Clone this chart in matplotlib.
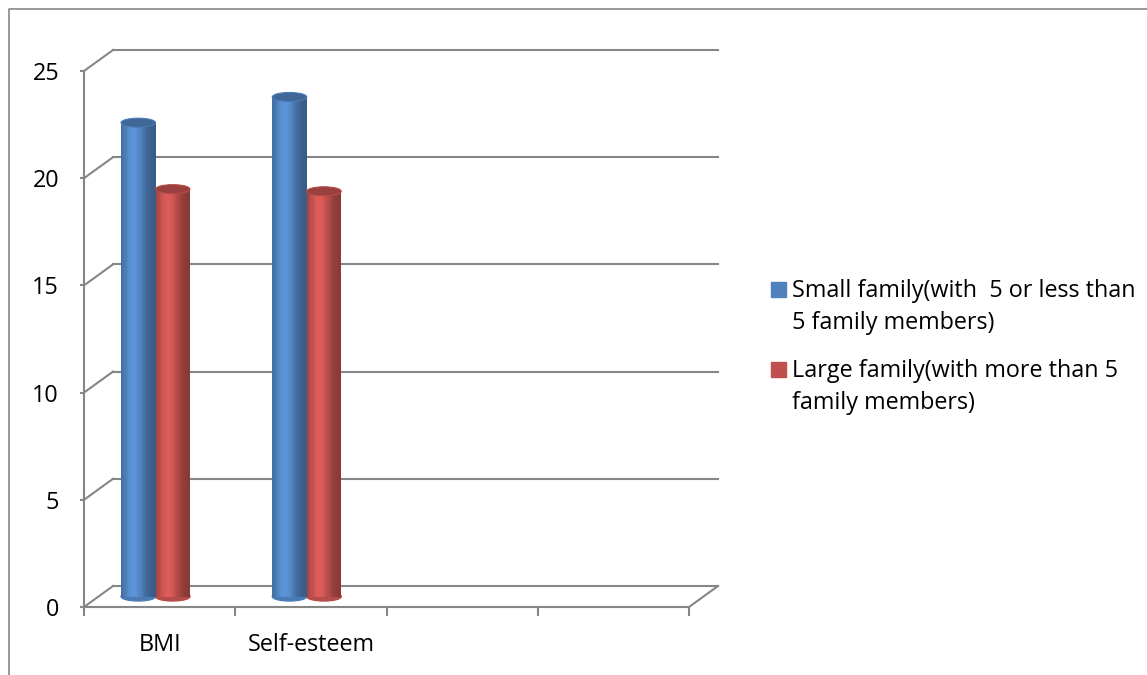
import numpy as np
import matplotlib.pyplot as plt
from matplotlib.patches import Ellipse, Rectangle
from matplotlib.lines import Line2D

# data
categories = ['BMI', 'Self-esteem', '', '']
series_names = ['Small family(with  5 or less than\n5 family members)',
                'Large family(with more than 5\nfamily members)']
small_family = [22.1, 23.3]
large_family = [19.0, 18.9]
y_ticks = [0, 5, 10, 15, 20, 25]
colors = ['#4f81bd', '#c0504d']

plt.rcParams['font.family'] = ['Open Sans', 'DejaVu Sans']
W, H = 1147, 675
fs = 16.8
grid = '#868686'

fig = plt.figure(figsize=(W / 100, H / 100), dpi=100)
ax = fig.add_axes([84 / W, (H - 607) / H, 605 / W, 536 / H])
ax.set_xlim(0, len(categories))
ax.set_ylim(0, 25)
for s in ax.spines.values():
    s.set_visible(False)

# depth offset of back wall, in data units
dx = 29 / (605 / len(categories))
dy = 21 / (536 / 25)

#  %%----------------------------------------- walls
for v in y_ticks:
    ax.plot([dx, len(categories) + dx], [v + dy, v + dy], color=grid, lw=1.5, clip_on=False, zorder=1)
    ax.plot([0, dx], [v, v + dy], color=grid, lw=1.5, clip_on=False, zorder=1)
ax.plot([0, 0], [0, 25], color=grid, lw=1.5, clip_on=False, zorder=1)
ax.plot([0, len(categories)], [0, 0], color=grid, lw=1.5, clip_on=False, zorder=1)
ax.plot([len(categories), len(categories) + dx], [0, dy], color=grid, lw=1.5, clip_on=False, zorder=1)

#  %%----------------------------------------- cylinders
bw = 0.228
start = 0.149
cap_h = 9 / (536 / 25)
n = 30


def shade(t):
    return 0.7 + 0.45 * np.exp(-((t - 0.36) / 0.33) ** 2)


def cylinder(x0, val, col):
    base = np.array(plt.matplotlib.colors.to_rgb(col))
    x0 = x0 + dx / 2
    y0 = dy / 2
    mid = base * 0.95
    ax.add_patch(Ellipse((x0 + bw / 2, y0), bw, cap_h, color=np.clip(mid, 0, 1), zorder=3, clip_on=False))
    edges = np.linspace(0, 1, n + 1)
    for a, b in zip(edges[:-1], edges[1:]):
        c = np.clip(base * shade((a + b) / 2), 0, 1)
        ax.bar(x0 + a * bw, val, width=(b - a) * bw * 1.05, bottom=y0, align='edge',
               color=c, lw=0, zorder=4, clip_on=False)
    ax.add_patch(Ellipse((x0 + bw / 2, y0 + val), bw, cap_h, facecolor=np.clip(base * 0.8, 0, 1),
                         edgecolor=np.clip(base * 0.95, 0, 1), lw=0.8, zorder=5, clip_on=False))


for i in range(len(small_family)):
    cylinder(i + start, small_family[i], colors[0])
    cylinder(i + start + bw, large_family[i], colors[1])

#  %%----------------------------------------- axes ticks
ax.set_yticks(y_ticks)
ax.set_yticklabels([str(v) for v in y_ticks], fontsize=fs)
ax.tick_params(axis='y', direction='out', length=3, width=1.5, color=grid, pad=15)
ax.set_xticks(np.arange(len(categories) + 1))
ax.set_xticklabels([''] * (len(categories) + 1))
ax.set_xticks(np.arange(len(categories)) + 0.5, minor=True)
ax.set_xticklabels(categories, minor=True, fontsize=fs)
ax.tick_params(axis='x', which='major', direction='out', length=6.5, width=1.5, color=grid)
ax.tick_params(axis='x', which='minor', length=0, pad=19)

#  %%----------------------------------------- legend
ys = [297, 377]
for k in range(2):
    fig.add_artist(Rectangle((771 / W, 1 - (ys[k] + 0) / H), 15 / W, 15 / H, color=colors[k]))
    for j, line in enumerate(series_names[k].split('\n')):
        fig.text(792 / W, 1 - (ys[k] + 32 * j) / H, line, fontsize=fs, va='baseline', ha='left')

# outer border
fig.add_artist(Line2D([9 / W, 9 / W, 1], [0, 1 - 9 / H, 1 - 9 / H], color='#878787', lw=1.2))

fig.savefig('out.png', dpi=100)
